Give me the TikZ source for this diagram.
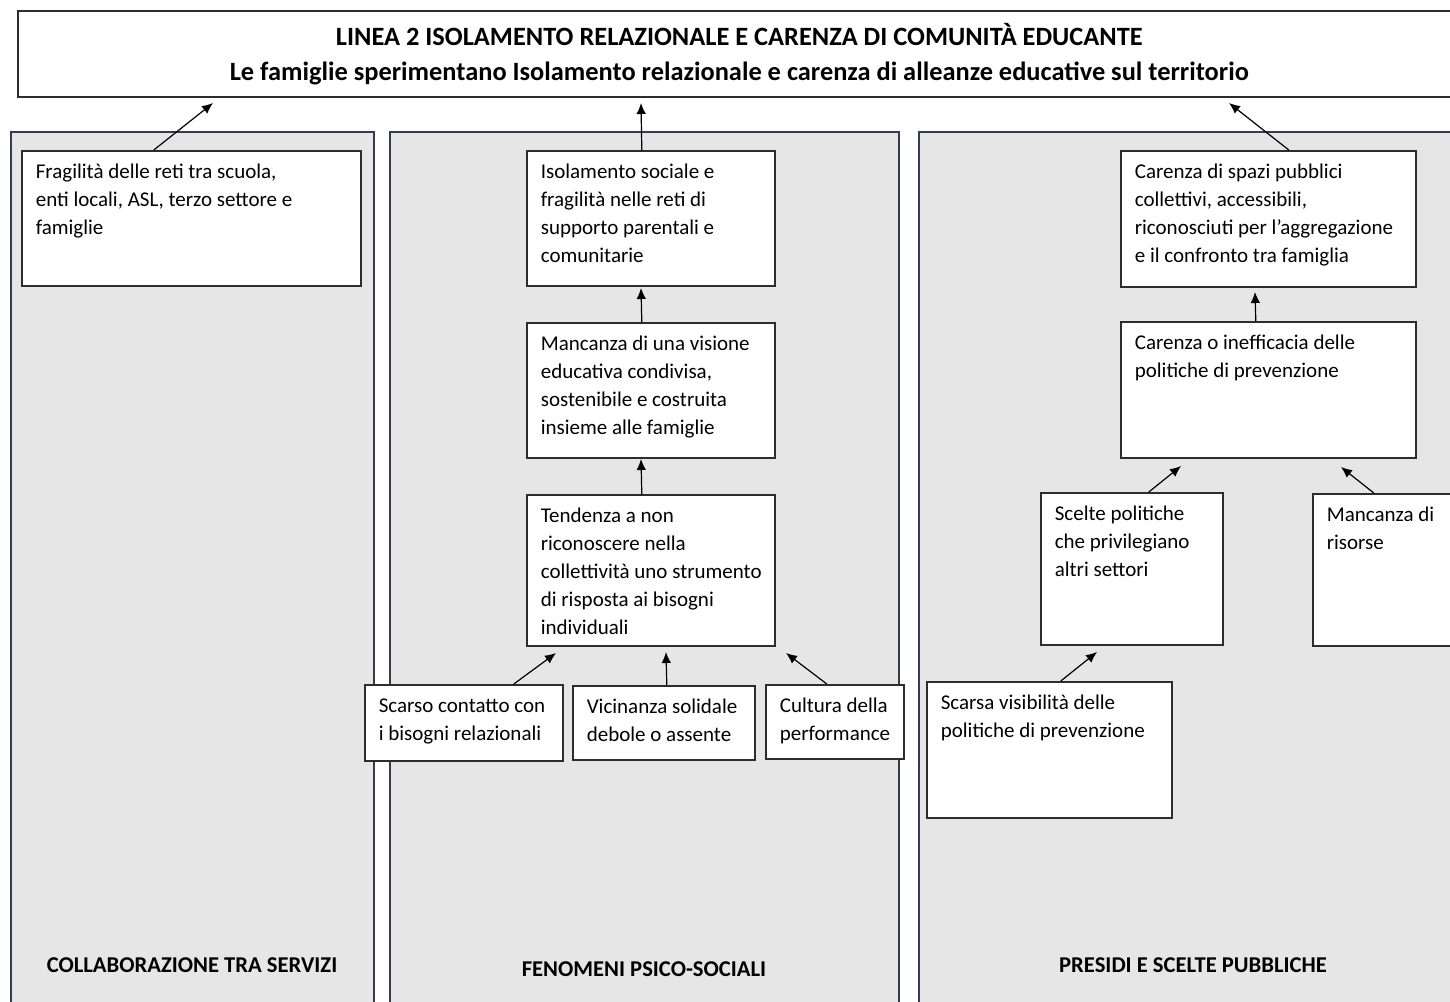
\documentclass[tikz,border=0pt]{standalone}
\usepackage{fontspec}
\setmainfont{Carlito}
\usetikzlibrary{arrows.meta}

\definecolor{panelfill}{RGB}{230,230,230}
\definecolor{paneldraw}{RGB}{50,62,80}
\definecolor{boxdraw}{RGB}{45,45,45}

\newcommand{\causetext}[3]{\parbox[t][#2][t]{#1}{\vspace*{4.2pt}\hspace*{7pt}\begin{tabular}[t]{@{}l@{}}#3\end{tabular}}}

\begin{document}
\begin{tikzpicture}[x=0.5pt, y=-0.5pt,
	panel/.style={draw=paneldraw, fill=panelfill, line width=0.8pt, anchor=north west, inner sep=0pt, minimum height=439.5pt},
	cause/.style={draw=boxdraw, fill=white, line width=0.8pt, anchor=north west, inner sep=0pt, font=\fontsize{10.5}{14}\selectfont},
	paneltitle/.style={font=\fontsize{11.3}{13}\selectfont\bfseries},
	arr/.style={-{Latex[length=5.5pt,width=4.8pt]}, line width=0.6pt}]
	\useasboundingbox (0,0) rectangle (1450,1001);
	\clip (0,0) rectangle (1450,1001);
	\node[draw=boxdraw, line width=0.8pt, anchor=north west, minimum width=721.5pt, minimum height=43pt, inner sep=0pt, align=center, font=\fontsize{13.2}{17.5}\selectfont\bfseries](title) at (17,10)
		{LINEA 2 ISOLAMENTO RELAZIONALE E CARENZA DI COMUNITÀ EDUCANTE\\Le famiglie sperimentano Isolamento relazionale e carenza di alleanze educative sul territorio};
	\node[panel, minimum width=181.5pt](collab) at (10,131){};
	\node[panel, minimum width=254.5pt](psico) at (389,131){};
	\node[panel, minimum width=271pt](presidi) at (918,131){};
	\node[paneltitle](collablabel) at (192,965){COLLABORAZIONE TRA SERVIZI};
	\node[paneltitle](psicolabel) at (644,969){FENOMENI PSICO-SOCIALI};
	\node[paneltitle](presidilabel) at (1193,965){PRESIDI E SCELTE PUBBLICHE};
	\node[cause](reti) at (21,150){\causetext{169.5pt}{67.5pt}{Fragilità delle reti tra scuola,\\enti locali, ASL, terzo settore e\\famiglie}};
	\node[cause](isolamento) at (526,150){\causetext{124pt}{67.5pt}{Isolamento sociale e\\fragilità nelle reti di\\supporto parentali e\\comunitarie}};
	\node[cause](visione) at (526,322){\causetext{124pt}{67.5pt}{Mancanza di una visione\\educativa condivisa,\\sostenibile e costruita\\insieme alle famiglie}};
	\node[cause](tendenza) at (526,494){\causetext{124pt}{75.5pt}{Tendenza a non\\riconoscere nella\\collettività uno strumento\\di risposta ai bisogni\\individuali}};
	\node[cause](contatto) at (364,684){\causetext{99pt}{38pt}{Scarso contatto con\\i bisogni relazionali}};
	\node[cause](vicinanza) at (572,685){\causetext{91pt}{37pt}{Vicinanza solidale\\debole o assente}};
	\node[cause](cultura) at (765,684){\causetext{69pt}{37pt}{Cultura della\\performance}};
	\node[cause](spazi) at (1120,150){\causetext{147.5pt}{68pt}{Carenza di spazi pubblici\\collettivi, accessibili,\\riconosciuti per l’aggregazione\\e il confronto tra famiglia}};
	\node[cause](politiche) at (1120,321){\causetext{147.5pt}{68pt}{Carenza o inefficacia delle\\politiche di prevenzione}};
	\node[cause](scelte) at (1040,492){\causetext{91pt}{76pt}{Scelte politiche\\che privilegiano\\altri settori}};
	\node[cause](risorse) at (1312,493){\causetext{74pt}{76pt}{Mancanza di\\risorse}};
	\node[cause](visibilita) at (926,681){\causetext{122.5pt}{68pt}{Scarsa visibilità delle\\politiche di prevenzione}};
	\coordinate (titlea) at (213,103);
	\coordinate (titleb) at (641,103);
	\coordinate (titlec) at (1229,103);
	\coordinate (isoin) at (641,288);
	\coordinate (visin) at (641,459);
	\coordinate (tena) at (556,653);
	\coordinate (tenb) at (666,652);
	\coordinate (tenc) at (786,653);
	\coordinate (spaziin) at (1255,292);
	\coordinate (pola) at (1181,466);
	\coordinate (polb) at (1341,467);
	\coordinate (sceltein) at (1097,652);
	\draw[arr] ([xshift=-18.75pt]reti.north) -- (titlea);
	\draw[arr] ([xshift=-4.5pt]isolamento.north) -- (titleb);
	\draw[arr] ([xshift=-4.5pt]visione.north) -- (isoin);
	\draw[arr] ([xshift=-4.5pt]tendenza.north) -- (visin);
	\draw[arr] ([xshift=25pt]contatto.north) -- (tena);
	\draw[arr] ([xshift=1.5pt]vicinanza.north) -- (tenb);
	\draw[arr] ([xshift=-4pt]cultura.north) -- (tenc);
	\draw[arr] ([xshift=10.25pt]spazi.north) -- (titlec);
	\draw[arr] ([xshift=-6.25pt]politiche.north) -- (spaziin);
	\draw[arr] ([xshift=8.5pt]scelte.north) -- (pola);
	\draw[arr] ([xshift=-6.5pt]risorse.north) -- (polb);
	\draw[arr] ([xshift=5.75pt]visibilita.north) -- (sceltein);
\end{tikzpicture}
\end{document}
